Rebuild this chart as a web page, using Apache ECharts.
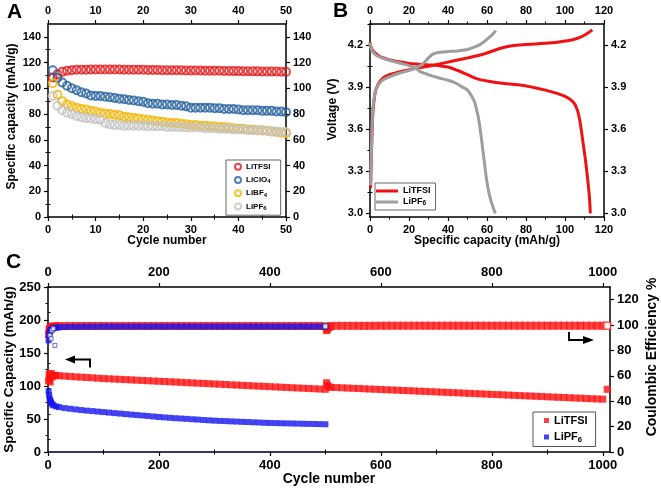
<!DOCTYPE html>
<html>
<head>
<meta charset="utf-8">
<script src="https://cdn.jsdelivr.net/npm/echarts@6/dist/echarts.min.js"></script>
<style>html,body{margin:0;padding:0;background:#fff}#c{width:661px;height:489px}</style>
</head>
<body>
<div id="c"></div>
<script>
// ---------- Panel A: capacity vs cycle (cycles 1..50) ----------
const cyclesA = [1,2,3,4,5,6,7,8,9,10,11,12,13,14,15,16,17,18,19,20,21,22,23,24,25,26,27,28,29,30,31,32,33,34,35,36,37,38,39,40,41,42,43,44,45,46,47,48,49,50];
const capA_TFSI = [108.5,111,112.8,113.6,114,114.5,114.5,114.5,114.6,114.6,114.6,114.6,114.6,114.6,114.6,114.5,114.5,114.5,114.4,114.4,114.3,114.2,114.2,114.1,114.1,114,114,114,113.9,113.9,113.8,113.8,113.7,113.7,113.6,113.6,113.5,113.5,113.4,113.4,113.3,113.3,113.2,113.2,113.1,113.1,113,113,112.9,112.8];
const capA_ClO4 = [114,108,104.5,102,100,98.5,97,96,94.5,94,94,93.5,93,92.5,92,91.5,91,90.5,90,89.5,88.5,88,88,87.5,87.5,87,87,86.5,86,85,85,85,85,85,84.5,84.5,84,84,84,83.5,83,83,83,83,82.5,82.5,82.5,82,82,81.5];
const capA_BF4 = [104,95,90,87.5,86,85,84,83.5,82.5,82,81,80.5,80,79.5,79,78,77.5,77,76.5,76,75.5,75,74.5,74,73.5,73,73,72.5,72,71.5,71.5,71,71,70.5,70.5,70,70,69.5,69,68.5,68.5,68,68,67.5,67.5,67,66.5,66,65.5,65];
const capA_PF6 = [94,86.5,83,81,80,78.5,77.5,77,76.5,76,75.5,73,72,71.5,71.5,71,71,71,71,71,70.5,70.5,70.5,70.5,70,70,70,70,69.5,69.5,69.5,69.5,69,69,69,68.5,68.5,68.5,68,68,68,67.5,67.5,67.5,67,67,66.5,66.5,66,66];
const ticksAX = [0,10,20,30,40,50];
const minorsAX = [5,15,25,35,45];
const ticksAY = [0,20,40,60,80,100,120,140];
const minorsAY = [10,30,50,70,90,110,130];

// ---------- Panel B: voltage profiles ----------
const tfsiChgX = [0.3,0.8,1.5,2.5,3.5,5,7,10,15,20,25,30,35,40,45,50,55,60,65,70,75,80,85,90,95,100,104,108,111,114];
const tfsiChgV = [3.18,3.45,3.72,3.85,3.9,3.94,3.97,3.99,4.01,4.025,4.04,4.05,4.065,4.08,4.095,4.11,4.125,4.145,4.17,4.19,4.2,4.205,4.21,4.215,4.22,4.23,4.24,4.258,4.28,4.31];
const tfsiDisX = [0,1,3,5,8,12,16,20,25,30,35,40,45,50,55,60,70,80,90,95,100,103,105,106.5,107.5,108.5,109.5,110.5,111.5,112.5,113];
const tfsiDisV = [4.22,4.17,4.14,4.12,4.105,4.09,4.08,4.07,4.065,4.06,4.055,4.045,4.02,3.99,3.96,3.945,3.925,3.91,3.88,3.86,3.835,3.81,3.78,3.73,3.67,3.58,3.48,3.38,3.26,3.12,3.0];
const pf6ChgX = [0.3,0.8,1.5,2.5,3.5,5,7,10,15,20,23,26,28,30,32,34,36,40,45,50,55,58,61,63,64.5];
const pf6ChgV = [3.2,3.5,3.75,3.86,3.9,3.93,3.955,3.975,4.0,4.02,4.035,4.055,4.08,4.11,4.135,4.145,4.15,4.155,4.16,4.17,4.195,4.22,4.255,4.28,4.305];
const pf6DisX = [0,1,3,5,8,12,16,20,23,26,29,32,36,40,44,47,50,52,53.5,54.5,55.5,56.3,57,57.8,58.6,59.5,60.5,62,63.5,64.3];
const pf6DisV = [4.22,4.16,4.13,4.115,4.1,4.085,4.07,4.055,4.04,4.01,3.995,3.98,3.965,3.95,3.93,3.905,3.88,3.84,3.8,3.75,3.69,3.62,3.55,3.46,3.37,3.27,3.18,3.09,3.03,3.0];
const ticksBX = [0,20,40,60,80,100,120];
const minorsBX = [10,30,50,70,90,110];
const ticksBY = [3.0,3.3,3.6,3.9,4.2];
const minorsBY = [3.15,3.45,3.75,4.05,4.35];

// ---------- Panel C: long cycling ----------
const cyclesTFSI = [1,2,3,4,5,6,8,10,15,20,30,40,50,60,70,80,90,100,110,120,130,140,150,160,170,180,190,200,210,220,230,240,250,260,270,280,290,300,310,320,330,340,350,360,370,380,390,400,410,420,430,440,450,460,470,480,490,500,502,504,507,510,520,530,540,550,560,570,580,590,600,610,620,630,640,650,660,670,680,690,700,710,720,730,740,750,760,770,780,790,800,810,820,830,840,850,860,870,880,890,900,910,920,930,940,950,960,970,980,990,1000];
const capTFSI = [108,118,112,106,116,119,114,116,116,115.5,115,114.5,113.9,113.4,112.9,112.4,111.8,111.3,110.9,110.5,110.1,109.7,109.3,108.8,108.4,108,107.6,107.2,106.8,106.4,106,105.5,105.1,104.7,104.3,103.9,103.5,103.1,102.7,102.3,101.8,101.4,101,100.6,100.2,99.8,99.4,99,98.6,98.2,97.8,97.4,97,96.6,96.2,95.8,95.4,95,105,101,98.5,98,97.6,97.3,96.9,96.5,96.2,95.8,95.4,95.1,94.7,94.3,94,93.6,93.2,92.9,92.5,92.1,91.8,91.4,91,90.7,90.3,89.9,89.6,89.2,88.8,88.5,88.1,87.7,87.3,87,86.6,86.2,85.9,85.5,85.1,84.8,84.4,84,83.7,83.3,82.9,82.6,82.2,81.8,81.5,81.1,80.7,80.4,80];
const ceTFSI = [93,96,97,97.5,98,98.5,98.5,99,99,99.2,99.2,99.3,99.3,99.3,99.3,99.3,99.3,99.3,99.3,99.3,99.3,99.3,99.3,99.3,99.3,99.3,99.3,99.3,99.3,99.3,99.3,99.3,99.3,99.3,99.3,99.3,99.3,99.3,99.3,99.3,99.3,99.3,99.3,99.3,99.3,99.3,99.3,99.3,99.3,99.3,99.3,99.3,99.3,99.3,99.3,99.3,99.3,99,96,97,98.5,99.3,99.4,99.4,99.4,99.4,99.4,99.4,99.4,99.4,99.5,99.5,99.5,99.5,99.5,99.5,99.5,99.5,99.5,99.5,99.5,99.5,99.5,99.5,99.5,99.5,99.5,99.5,99.5,99.5,99.5,99.5,99.5,99.5,99.5,99.5,99.5,99.5,99.5,99.5,99.5,99.5,99.5,99.5,99.5,99.5,99.5,99.5,99.5,99.5,99.5];
const extraTFSICycle = [1008];
const extraTFSICap = [95];
const endTFSICECycle = [1008];
const endTFSICE = [99.6];
const cyclesPF6 = [1,2,3,4,5,6,8,10,15,20,30,40,50,60,70,80,90,100,110,120,130,140,150,160,170,180,190,200,210,220,230,240,250,260,270,280,290,300,310,320,330,340,350,360,370,380,390,400,410,420,430,440,450,460,470,480,490,500];
const capPF6 = [92,86,81,78,76,74,72,70.5,69,68,66.5,65.5,64.5,63.5,62.7,62,61.2,60.5,59.7,58.9,58.2,57.4,56.7,56,55.3,54.6,53.8,53,52.4,51.8,51.2,50.7,50.2,49.6,49.1,48.5,48,47.5,47.1,46.8,46.4,46.1,45.7,45.4,45,44.7,44.3,44,43.8,43.6,43.4,43.2,43,42.8,42.6,42.4,42.2,42];
const cePF6 = [88,92,94,95,96,96.5,97,97.5,98,98.3,98.5,98.6,98.6,98.7,98.7,98.7,98.7,98.8,98.8,98.8,98.8,98.8,98.8,98.8,98.8,98.8,98.8,98.8,98.8,98.8,98.8,98.8,98.8,98.8,98.8,98.8,98.8,98.8,98.8,98.8,98.8,98.8,98.8,98.8,98.8,98.8,98.8,98.8,98.8,98.8,98.8,98.8,98.8,98.8,98.8,98.8,98.8,98.8];
const earlyPF6CECycle = [3.5,5.5,7,9.5,12.5];
const earlyPF6CE = [91.9,89.3,95.8,97.2,84];
const endPF6CECycle = [500];
const endPF6CE = [99];
const zeroPF6Cycle = [1,100,200,300,400,505];
const zeroPF6 = [0,0,0,0,0,0];
const ticksCX = [0,200,400,600,800,1000];
const minorsCX = [100,300,500,700,900];
const ticksCY = [0,50,100,150,200,250];
const minorsCY = [25,75,125,175,225];
const ticksCR = [0,20,40,60,80,100,120];
const minorsCR = [10,30,50,70,90,110,130];

// ---------- helpers ----------
const FONT = '"Liberation Sans", Arial, sans-serif';
const pairs = (xs, ys) => xs.map((x, i) => [x, ys[i]]);

function mkAxis(o) {
  const major = {
    type: 'value', gridIndex: o.g, position: o.pos, min: o.min, max: o.max,
    axisLine: {show: true, onZero: false, lineStyle: {color: '#000', width: 1.5}},
    axisTick: {show: true, inside: false, length: 4, customValues: o.ticks, lineStyle: {color: '#000', width: 1.2}},
    axisLabel: {show: true, customValues: o.ticks, fontSize: o.fs, fontWeight: 'bold', color: '#000',
                fontFamily: FONT, margin: o.margin, formatter: o.fmt || (v => String(v))},
    splitLine: {show: false}
  };
  if (o.name) {
    major.name = o.name;
    major.nameLocation = 'middle';
    major.nameGap = o.nameGap;
    major.nameMoveOverlap = false;
    major.nameTextStyle = {fontSize: o.nameSize, fontWeight: 'bold', color: '#000', fontFamily: FONT,
                           padding: o.namePad || 0};
  }
  const minor = {
    type: 'value', gridIndex: o.g, position: o.pos, min: o.min, max: o.max,
    axisLine: {show: false},
    axisTick: {show: true, inside: false, length: 2.5, customValues: o.minors, lineStyle: {color: '#000', width: 1}},
    axisLabel: {show: false},
    splitLine: {show: false}
  };
  return [major, minor];
}

const fmt1 = v => v.toFixed(1);
const xAxes = [].concat(
  mkAxis({g:0,pos:'bottom',min:0,max:50,ticks:ticksAX,minors:minorsAX,fs:11,margin:7,name:'Cycle number',nameGap:18,nameSize:12}),
  mkAxis({g:0,pos:'top',min:0,max:50,ticks:ticksAX,minors:minorsAX,fs:11,margin:8}),
  mkAxis({g:1,pos:'bottom',min:0,max:120,ticks:ticksBX,minors:minorsBX,fs:11,margin:7,name:'Specific capacity (mAh/g)',nameGap:18,nameSize:12}),
  mkAxis({g:1,pos:'top',min:0,max:120,ticks:ticksBX,minors:minorsBX,fs:11,margin:8}),
  mkAxis({g:2,pos:'bottom',min:0,max:1013,ticks:ticksCX,minors:minorsCX,fs:13,margin:7,name:'Cycle number',nameGap:20,nameSize:14}),
  mkAxis({g:2,pos:'top',min:0,max:1013,ticks:ticksCX,minors:minorsCX,fs:13,margin:8})
);
const yAxes = [].concat(
  mkAxis({g:0,pos:'left',min:0,max:150,ticks:ticksAY,minors:minorsAY,fs:11,margin:7,name:'Specific capacity (mAh/g)',nameGap:30,nameSize:12,namePad:[0,0,0,8]}),
  mkAxis({g:0,pos:'right',min:0,max:150,ticks:ticksAY,minors:minorsAY,fs:11,margin:7}),
  mkAxis({g:1,pos:'left',min:2.974,max:4.352,ticks:ticksBY,minors:minorsBY,fs:11,margin:7,fmt:fmt1,name:'Voltage (V)',nameGap:31,nameSize:12,namePad:[0,0,0,22]}),
  mkAxis({g:1,pos:'right',min:2.974,max:4.352,ticks:ticksBY,minors:minorsBY,fs:11,margin:7,fmt:fmt1}),
  mkAxis({g:2,pos:'left',min:0,max:250,ticks:ticksCY,minors:minorsCY,fs:13,margin:7,name:'Specific Capacity (mAh/g)',nameGap:32,nameSize:13.5}),
  mkAxis({g:2,pos:'right',min:0,max:130,ticks:ticksCR,minors:minorsCR,fs:13,margin:7,name:'Coulombic Efficiency %',nameGap:35,nameSize:14,namePad:[0,0,0,25]})
);

const colA = {TFSI:'#e31a1c', ClO4:'#27609e', BF4:'#f4b400', PF6:'#c3c3c3'};
const colB = {TFSI:'#f01212', PF6:'#9e9e9e'};
const colC = {TFSI:'#ff1010', PF6:'#1515ee'};

function ring(name, data, color) {
  return {type:'scatter', name, xAxisIndex:0, yAxisIndex:0, data, symbol:'circle', symbolSize:8,
          itemStyle:{color:'rgba(255,255,255,0)', borderColor:color, borderWidth:2}};
}
function vline(name, data, color) {
  return {type:'line', name, xAxisIndex:4, yAxisIndex:4, data, symbol:'none', showSymbol:false, smooth:0.3,
          lineStyle:{color, width:3}, itemStyle:{color}};
}
function band(name, data, color, size, yIdx) {
  return {type:'scatter', name, xAxisIndex:8, yAxisIndex:yIdx, data, symbol:'rect', symbolSize:size,
          itemStyle:{color}};
}

const series = [
  ring('LiTFSI', pairs(cyclesA, capA_TFSI), colA.TFSI),
  ring('LiClO4', pairs(cyclesA, capA_ClO4), colA.ClO4),
  ring('LiBF4', pairs(cyclesA, capA_BF4), colA.BF4),
  ring('LiPF6', pairs(cyclesA, capA_PF6), colA.PF6),

  vline('LiTFSI ', pairs(tfsiChgX, tfsiChgV), colB.TFSI),
  vline('LiTFSI discharge', pairs(tfsiDisX, tfsiDisV), colB.TFSI),
  vline('LiPF6 ', pairs(pf6ChgX, pf6ChgV), colB.PF6),
  vline('LiPF6 discharge', pairs(pf6DisX, pf6DisV), colB.PF6),

  band('LiTFSI  ', pairs(cyclesTFSI, capTFSI), colC.TFSI, [7,7], 8),
  band('LiTFSI extra', pairs(extraTFSICycle, extraTFSICap), colC.TFSI, [7,7], 8),
  band('LiTFSI CE', pairs(cyclesTFSI, ceTFSI), colC.TFSI, [7,8], 10),
  {type:'scatter', name:'LiTFSI CE end', xAxisIndex:8, yAxisIndex:10, data:pairs(endTFSICECycle, endTFSICE),
   symbol:'rect', symbolSize:[7,7], itemStyle:{color:'#fff', borderColor:colC.TFSI, borderWidth:1.2}},
  {type:'line', name:'LiPF6 zero', xAxisIndex:8, yAxisIndex:8, data:pairs(zeroPF6Cycle, zeroPF6), symbol:'none',
   lineStyle:{color:colC.PF6, width:1, type:'dotted'}},
  band('LiPF6  ', pairs(cyclesPF6, capPF6), colC.PF6, [6,6], 8),
  band('LiPF6 CE', pairs(cyclesPF6, cePF6), colC.PF6, [6,6], 10),
  {type:'scatter', name:'LiPF6 CE early', xAxisIndex:8, yAxisIndex:10, data:pairs(earlyPF6CECycle, earlyPF6CE),
   symbol:'rect', symbolSize:[4,4], itemStyle:{color:'#fff', borderColor:'#4a4aa8', borderWidth:1}},
  {type:'scatter', name:'LiPF6 CE end', xAxisIndex:8, yAxisIndex:10, data:pairs(endPF6CECycle, endPF6CE),
   symbol:'rect', symbolSize:[5,5], itemStyle:{color:'#fff', borderColor:'#333366', borderWidth:1}}
];

const subFmt = name => name.trim().replace(/(\d)$/, '{sub|$1}');
function legendText(size, lh, subSize, subLh) {
  return {fontSize:size, fontWeight:'bold', color:'#000', fontFamily:FONT, lineHeight:lh,
          rich:{sub:{fontSize:subSize, fontWeight:'bold', color:'#000', fontFamily:FONT, lineHeight:subLh, verticalAlign:'bottom'}}};
}

const legends = [
  {left:226, top:160, orient:'vertical', data:['LiTFSI','LiClO4','LiBF4','LiPF6'], formatter:subFmt,
   itemWidth:6, itemHeight:6, itemGap:4, itemTextGap:9, padding:[2,10,4,8],
   borderColor:'#666', borderWidth:1, backgroundColor:'#fff', textStyle:legendText(8,9.3,6,6)},
  {left:375, top:183, orient:'vertical',
   data:[{name:'LiTFSI ', icon:'rect', itemStyle:{color:colB.TFSI}}, {name:'LiPF6 ', icon:'rect', itemStyle:{color:colB.PF6}}],
   formatter:subFmt,
   itemWidth:22, itemHeight:3, itemGap:1, itemTextGap:3, padding:[3,5,3,1],
   borderColor:'#666', borderWidth:1, backgroundColor:'#fff', textStyle:legendText(9,10,6.5,6)},
  {left:533, top:412, orient:'vertical', data:['LiTFSI  ','LiPF6  '], formatter:subFmt,
   itemWidth:5, itemHeight:5, itemGap:3.5, itemTextGap:11, padding:[2,8,3,11],
   borderColor:'#555', borderWidth:1, backgroundColor:'#fff', textStyle:legendText(11,13,7.5,8)}
];

const gridBase = {containLabel:false, outerBoundsMode:'none'};
const chart = echarts.init(document.getElementById('c'), null, {renderer:'canvas'});
chart.setOption({
  animation:false,
  backgroundColor:'#fff',
  textStyle:{fontFamily:FONT},
  grid:[
    Object.assign({left:48,top:24,width:238,height:193}, gridBase),
    Object.assign({left:370,top:24,width:234,height:193}, gridBase),
    Object.assign({left:48,top:287,width:562,height:165}, gridBase)
  ],
  xAxis:xAxes,
  yAxis:yAxes,
  legend:legends,
  series,
  graphic:[
    {type:'text', left:7, top:2, style:{text:'A', font:'bold 21px ' + FONT, fill:'#000'}},
    {type:'text', left:333, top:1, style:{text:'B', font:'bold 21px ' + FONT, fill:'#000'}},
    {type:'text', left:6, top:252, style:{text:'C', font:'bold 21px ' + FONT, fill:'#000'}},
    {type:'polyline', shape:{points:[[74,359.5],[90,359.5],[90,367.5]]}, style:{stroke:'#000', lineWidth:2, fill:null}},
    {type:'polygon', shape:{points:[[65,359.5],[75,355.5],[75,363.5]]}, style:{fill:'#000'}},
    {type:'polyline', shape:{points:[[569,332],[569,340],[584,340]]}, style:{stroke:'#000', lineWidth:2, fill:null}},
    {type:'polygon', shape:{points:[[594,340],[583,336],[583,344]]}, style:{fill:'#000'}}
  ]
});
</script>
</body>
</html>
